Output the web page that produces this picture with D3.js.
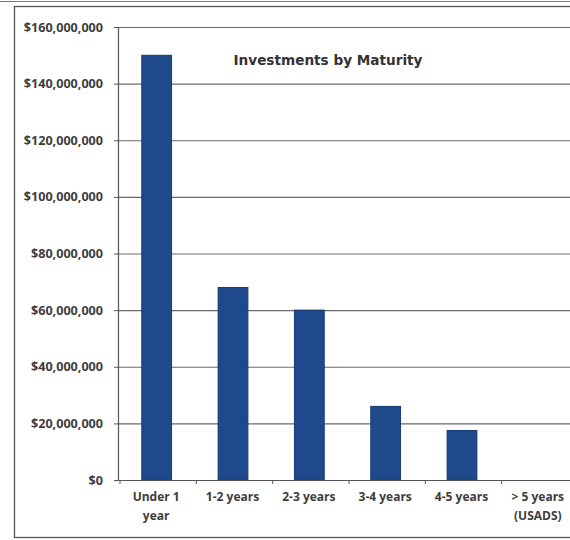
<!DOCTYPE html>
<html><head><meta charset="utf-8">
<script src="https://cdn.jsdelivr.net/npm/d3@7"></script>
<style>body{margin:0;background:#fff}svg{display:block}</style>
</head><body>
<script>
const categories = [["Under 1","year"],["1-2 years"],["2-3 years"],["3-4 years"],["4-5 years"],["> 5 years","(USADS)"]];
const values = [150000000, 68000000, 60000000, 26000000, 17500000, 0];
const yTicks = [0,20000000,40000000,60000000,80000000,100000000,120000000,140000000,160000000];
const title = "Investments by Maturity";

(function(){
const W = 570, H = 540;
const svg = d3.select("body").append("svg").attr("width", W).attr("height", H);
svg.append("rect").attr("width", W).attr("height", H).attr("fill", "#fff");

// outer frame lines
svg.append("line").attr("x1",0).attr("x2",W).attr("y1",1.5).attr("y2",1.5).attr("stroke","#777").attr("stroke-width",1.2);
svg.append("rect").attr("x",14.5).attr("y",6.5).attr("width",W).attr("height",531)
  .attr("fill","none").attr("stroke","#555").attr("stroke-width",1.3);

const mLeft = 118, mRight = 578, mTop = 27, mBottom = 480;
const idx = categories.map((d,i)=>i);
const x = d3.scaleBand().domain(idx).range([120, mRight]).padding(0);
const y = d3.scaleLinear().domain([0,160000000]).range([mBottom, mTop]);

const font = "'Open Sans', 'Liberation Sans', sans-serif";
const txt = "#3d3d3d";

// gridlines
svg.append("g").selectAll("line").data(yTicks).join("line")
  .attr("x1", mLeft).attr("x2", mRight)
  .attr("y1", d=>y(d)+0.5).attr("y2", d=>y(d)+0.5)
  .attr("stroke","#6a6a6a").attr("stroke-width",1.1);

// y axis
const yAxis = svg.append("g").attr("transform",`translate(${mLeft},0)`)
  .call(d3.axisLeft(y).tickValues(yTicks).tickFormat(d3.format("$,.0f")).tickSize(4).tickPadding(11));
yAxis.select(".domain").attr("stroke","#555").attr("stroke-width",1.2);
yAxis.selectAll(".tick line").attr("stroke","#555");
yAxis.selectAll("text").attr("font-family",font).attr("font-weight","bold")
  .attr("font-size","12.6px").attr("fill",txt);

// bars
const bw = x.bandwidth()*0.39;
svg.append("g").selectAll("rect").data(values).join("rect")
  .attr("x",(d,i)=>x(i)+x.bandwidth()/2 - bw/2 - 1.5)
  .attr("width",bw)
  .attr("y",d=>y(d))
  .attr("height",d=>mBottom - y(d))
  .attr("fill","#1e4a8c").attr("stroke","#163a72").attr("stroke-width",1);

// x axis
const xg = svg.append("g");
xg.append("line").attr("x1",mLeft).attr("x2",mRight).attr("y1",mBottom+0.5).attr("y2",mBottom+0.5)
  .attr("stroke","#555").attr("stroke-width",1.2);
xg.selectAll("line.t").data(d3.range(categories.length+1)).join("line").attr("class","t")
  .attr("x1",d=>120 + d*x.step()).attr("x2",d=>120 + d*x.step())
  .attr("y1",mBottom).attr("y2",mBottom+4).attr("stroke","#555");
const lab = xg.selectAll("text").data(categories).join("text")
  .attr("x",(d,i)=>x(i)+x.bandwidth()/2 - 2)
  .attr("y",mBottom+21)
  .attr("text-anchor","middle")
  .attr("font-family",font).attr("font-weight","bold").attr("font-size","12px").attr("fill",txt);
lab.selectAll("tspan").data(d=>d).join("tspan")
  .attr("x",function(){return this.parentNode.getAttribute("x");})
  .attr("dy",(d,i)=>i===0?0:19)
  .text(d=>d);

// title
svg.append("text").attr("x",328).attr("y",65).attr("text-anchor","middle")
  .attr("font-family","'DejaVu Sans', sans-serif").attr("font-weight","bold")
  .attr("font-size","13.5px").attr("fill","#333")
  .attr("textLength",189).attr("lengthAdjust","spacingAndGlyphs")
  .text(title);
})();
</script>
</body></html>
